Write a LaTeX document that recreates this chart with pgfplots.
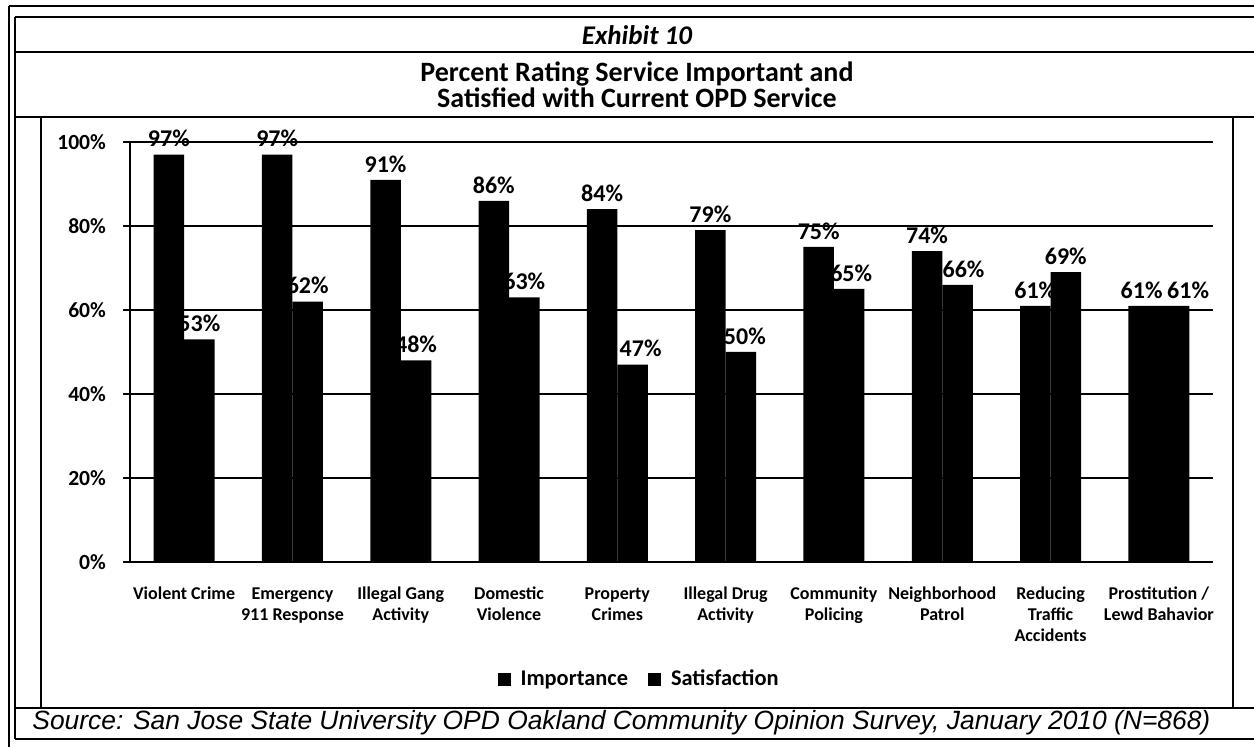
\documentclass[border=0pt]{standalone}
\usepackage{pgfplots}
\usepackage{pgfplotstable}
\pgfplotsset{compat=1.18}
\usepackage{fontspec}
\setmainfont{Carlito}
\newfontfamily\arialfont{Liberation Sans}

\pgfplotstableread{
x y dx
0 97 0
1 97 0
2 91 0
3 86 0
4 84 0
5 79 0
6 75 0
7 74 0
8 61 0
9 61 -1
}\importance
\pgfplotstableread{
x y dx
0 53 0
1 62 0
2 48 0
3 63 0
4 47 4
5 50 2
6 65 1
7 66 3
8 69 0
9 61 7
}\satisfaction

\begin{document}
\begin{tikzpicture}
\useasboundingbox (-65pt,-92.5pt) rectangle (562pt,281pt);
% frame lines
\draw[line width=1.2pt] (-60.5pt,278pt) -- (565pt,278pt);
\draw[line width=1.2pt] (-60.5pt,278pt) -- (-60.5pt,-95pt);
\draw[line width=1pt] (-57.5pt,272.5pt) -- (565pt,272.5pt);
\draw[line width=1pt] (-57.5pt,272.5pt) -- (-57.5pt,-88.5pt);
\draw[line width=1pt] (-57.5pt,255pt) -- (565pt,255pt);
\draw[line width=1.2pt] (-57.5pt,222.5pt) -- (565pt,222.5pt);
\draw[line width=0.8pt] (-44.5pt,222.5pt) -- (-44.5pt,-73pt);
\draw[line width=0.8pt] (551.5pt,222.5pt) -- (551.5pt,-73pt);
\draw[line width=1pt] (-57.5pt,-73pt) -- (565pt,-73pt);
\draw[line width=1pt] (-57.5pt,-88.5pt) -- (565pt,-88.5pt);
% titles
\node[font=\fontsize{13.5}{15}\selectfont\bfseries\itshape] at (253.5pt,263.5pt) {Exhibit 10};
\node[font=\fontsize{14}{13}\selectfont\bfseries, align=center] at (253.5pt,238.5pt) {Percent Rating Service Important and\\Satisfied with Current OPD Service};
\node[anchor=west, inner sep=0pt, font=\arialfont\itshape\fontsize{13.2}{15}\selectfont] at (-49pt,-80.5pt) {Source: San Jose State University OPD Oakland Community Opinion Survey, January 2010 (N=868)};

\begin{axis}[
  at={(0pt,0pt)}, anchor=south west,
  scale only axis, width=541.5pt, height=210pt,
  ybar=0pt, bar width=15.25pt,
  xmin=-0.5, xmax=9.5, ymin=0, ymax=100,
  axis x line*=bottom, axis y line*=left,
  axis line style={black, line width=0.7pt},
  xtick={0,...,9},
  xticklabels={\strut Violent Crime, {\strut Emergency\\911 Response}, {\strut Illegal Gang\\Activity}, {\strut Domestic\\Violence}, {\strut Property\\Crimes}, {\strut Illegal Drug\\Activity}, {\strut Community\\Policing}, {\strut Neighborhood\\Patrol}, {\strut Reducing\\Traffic\\Accidents}, {\strut Prostitution /\\Lewd Bahavior}},
  xticklabel style={align=center, font=\fontsize{9}{10.5}\selectfont\bfseries, yshift=-4.5pt},
  xtick style={draw=none},
  extra x ticks={-0.5,0.5,...,9.5},
  extra x tick labels={},
  extra x tick style={draw=black, grid=none},
  ytick={0,20,...,100},
  yticklabels={0\%,20\%,40\%,60\%,80\%,100\%},
  yticklabel style={font=\fontsize{10.8}{12}\selectfont\bfseries, xshift=-5pt},
  ytick style={black, line width=0.6pt},
  tick align=outside, major tick length=3.5pt,
  ymajorgrids, major grid style={black, line width=0.8pt},
  /pgf/number format/assume math mode=true,
  visualization depends on={\thisrow{dx} \as \labdx},
  nodes near coords={\pgfmathprintnumber{\pgfplotspointmeta}\%},
  every node near coord/.append style={font=\fontsize{12}{13}\selectfont\bfseries, inner sep=1pt, yshift=2.5pt, xshift=\labdx pt, black},
  legend style={at={(0.471,-0.281)}, anchor=center, draw=none, fill=none, legend columns=2,
    font=\fontsize{11.2}{13}\selectfont\bfseries,
    nodes={text height=1.6ex, text depth=0.4ex, anchor=base west},
    /tikz/every odd column/.append style={column sep=3pt},
    /tikz/every even column/.append style={column sep=8pt}},
  legend image code/.code={\fill[black] (0pt,-0.3pt) rectangle (6.5pt,6.2pt);},
]
\addplot[fill=black, draw=none] table[x=x, y=y] {\importance};
\addplot[fill=black, draw=none] table[x=x, y=y] {\satisfaction};
\legend{Importance, Satisfaction}
\end{axis}
\end{tikzpicture}
\end{document}
